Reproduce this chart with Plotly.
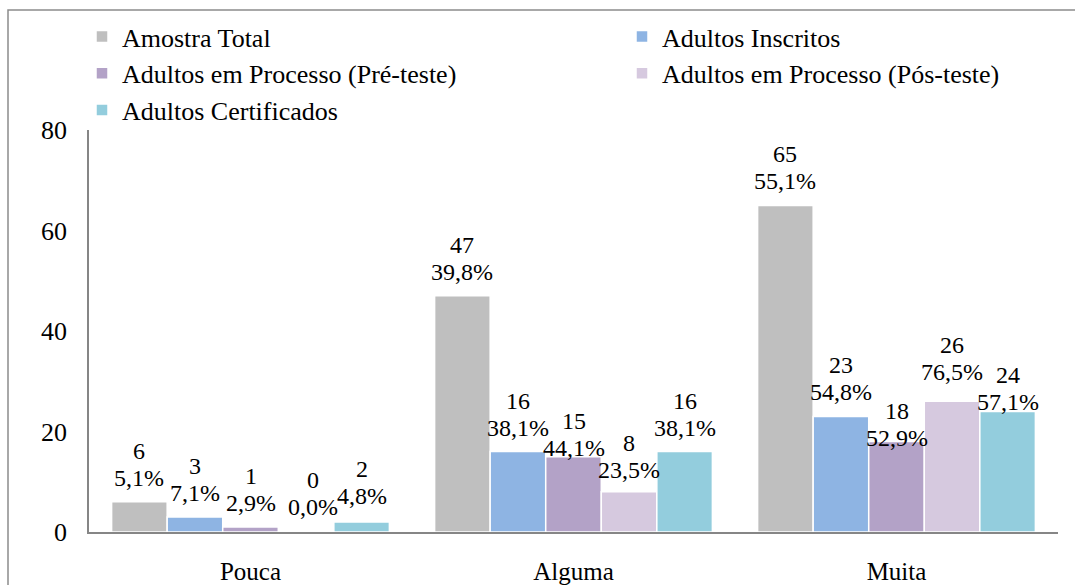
import plotly.graph_objects as go

categories = ["Pouca", "Alguma", "Muita"]
series_names = [
    "Amostra Total",
    "Adultos Inscritos",
    "Adultos em Processo (Pré-teste)",
    "Adultos em Processo (Pós-teste)",
    "Adultos Certificados",
]
amostra_total = [6, 47, 65]
adultos_inscritos = [3, 16, 23]
processo_pre = [1, 15, 18]
processo_pos = [0, 8, 26]
certificados = [2, 16, 24]

pct_amostra_total = ["5,1%", "39,8%", "55,1%"]
pct_adultos_inscritos = ["7,1%", "38,1%", "54,8%"]
pct_processo_pre = ["2,9%", "44,1%", "52,9%"]
pct_processo_pos = ["0,0%", "23,5%", "76,5%"]
pct_certificados = ["4,8%", "38,1%", "57,1%"]

values = [amostra_total, adultos_inscritos, processo_pre, processo_pos, certificados]
pcts = [pct_amostra_total, pct_adultos_inscritos, pct_processo_pre, pct_processo_pos, pct_certificados]

colors = ["#BFBFBF", "#8EB4E3", "#B3A2C7", "#D6C9DF", "#93CDDD"]
legend_of = ["legend", "legend2", "legend", "legend2", "legend"]

# label vertical nudges (px), per series per category (Excel's label placement)
label_yshift = [
    [0, 0, 0],
    [0, 0, 0],
    [0, -15, -20],
    [1, -2, 5],
    [2, 0, -15],
]
label_xshift = [
    [0, 0, 0],
    [0, 0, 0],
    [0, 0, 0],
    [7, 0, 0],
    [0, 0, 0],
]

W, H = 1075, 585
ML, MR, MT, MB = 89, 17, 130, 53
PW, PH = W - ML - MR, H - MT - MB
FONT = "Liberation Serif"

bargap = 0.14
n = len(values)
bw = (1 - bargap) / n
xs = list(range(len(categories)))

fig = go.Figure()
for i, (name, vals) in enumerate(zip(series_names, values)):
    fig.add_trace(go.Bar(
        x=xs, y=vals, name=name,
        marker=dict(color=colors[i], line=dict(color="white", width=1.5)),
        legend=legend_of[i],
        hoverinfo="skip",
    ))

annotations = []
for i in range(n):
    for j, c in enumerate(xs):
        xc = c - (1 - bargap) / 2 + (i + 0.5) * bw
        for txt, base in ((pcts[i][j], 24), (str(values[i][j]), 51)):
            annotations.append(dict(
                x=xc, y=values[i][j], xref="x", yref="y",
                text=txt,
                showarrow=False, xanchor="center", yanchor="middle",
                yshift=base + label_yshift[i][j], xshift=label_xshift[i][j],
                font=dict(family=FONT, size=24, color="black"),
            ))

def px_x(p):
    return (p - ML) / PW

def px_y(p):
    return (H - MB - p) / PH

fig.update_layout(
    width=W, height=H,
    margin=dict(l=ML, r=MR, t=MT, b=MB, autoexpand=False),
    paper_bgcolor="white", plot_bgcolor="white",
    barmode="group", bargap=bargap, bargroupgap=0,
    font=dict(family=FONT, size=25, color="black"),
    annotations=annotations,
    legend=dict(
        x=px_x(82), y=px_y(13),
        xanchor="left", yanchor="top", orientation="v",
        font=dict(family=FONT, size=26), bgcolor="rgba(0,0,0,0)",
        tracegroupgap=0,
    ),
    legend2=dict(
        x=px_x(622), y=px_y(13),
        xanchor="left", yanchor="top", orientation="v",
        font=dict(family=FONT, size=26), bgcolor="rgba(0,0,0,0)",
        tracegroupgap=0,
    ),
    shapes=[dict(
        type="rect", xref="paper", yref="paper",
        x0=px_x(8), x1=px_x(1100), y0=px_y(610), y1=px_y(10),
        line=dict(color="#8C8C8C", width=1.5), fillcolor="rgba(0,0,0,0)",
        layer="below",
    )],
    xaxis=dict(
        range=[-0.5, 2.5], tickvals=xs, ticktext=categories,
        showline=True, linecolor="#868686", linewidth=1.5,
        showgrid=False, zeroline=False, ticks="", ticklabelstandoff=16,
        tickfont=dict(family=FONT, size=25),
    ),
    yaxis=dict(
        range=[0, 80], dtick=20, showline=True, linecolor="#868686", linewidth=1.5,
        showgrid=False, zeroline=False, ticks="", ticklabelstandoff=15,
        tickfont=dict(family=FONT, size=26),
    ),
)

fig.write_html(
    "out.html",
    config={"displayModeBar": False},
    post_script="document.body.style.margin='0';document.body.style.overflow='hidden';",
)
